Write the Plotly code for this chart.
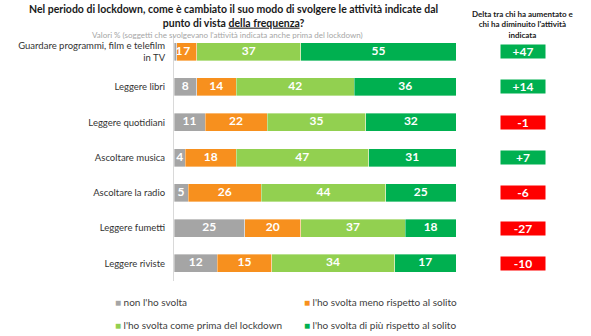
import plotly.graph_objects as go

categories = [
    "Guardare programmi, film e telefilm<br>in TV",
    "Leggere libri",
    "Leggere quotidiani",
    "Ascoltare musica",
    "Ascoltare la radio",
    "Leggere fumetti",
    "Leggere riviste",
]
non_svolta = [1, 8, 11, 4, 5, 25, 12]
meno = [7, 14, 22, 18, 26, 20, 15]
come_prima = [37, 42, 35, 47, 44, 37, 34]
di_piu = [55, 36, 32, 31, 25, 18, 17]
delta = [47, 14, -1, 7, -6, -27, -10]

series_names = [
    "non l'ho svolta",
    "l'ho svolta meno rispetto al solito",
    "l'ho svolta come prima del lockdown",
    "l'ho svolta di più rispetto al solito",
]
series_values = [non_svolta, meno, come_prima, di_piu]
colors = ["#A5A5A5", "#F7901E", "#92D050", "#00B050"]

FONT = "Lato"
W, H = 591, 336
ML, MR, MT, MB = 105, 10, 34, 55
PW = W - ML - MR
PH = H - MT - MB

def px_x(x):
    return (x - ML) / PW

def px_y(y):
    return (H - MB - y) / PH

fig = go.Figure()
for name, vals, col in zip(series_names, series_values, colors):
    fig.add_trace(go.Bar(
        y=categories, x=vals, name=name, orientation="h",
        marker=dict(color=col, line=dict(color="rgba(255,255,255,0.6)", width=0.6)),
        showlegend=False, hoverinfo="skip",
    ))

# value labels drawn on top of all bars (so narrow segments keep their label)
totals = [sum(s[i] for s in series_values) for i in range(len(categories))]
lab_x, lab_y, lab_t, lab_pos = [], [], [], []
for i, cat in enumerate(categories):
    cum = 0
    for s in series_values:
        v = s[i]
        lab_x.append((cum + v / 2) / totals[i] * 100)
        lab_y.append(cat)
        lab_t.append(str(v))
        lab_pos.append("middle right" if v / totals[i] < 0.03 else "middle center")
        cum += v
fig.add_trace(go.Scatter(
    x=lab_x, y=lab_y, text=lab_t, mode="text", textposition=lab_pos,
    textfont=dict(family=FONT, size=12, color="white", weight="bold"),
    showlegend=False, hoverinfo="skip",
))

annotations = []
annotations.append(dict(
    xref="paper", yref="paper", x=px_x(233), y=px_y(16),
    text="<b>Nel periodo di lockdown, come è cambiato il suo modo di svolgere le attività indicate dal<br>punto di vista <u>della frequenza</u>?</b>",
    showarrow=False, align="center", xanchor="center", yanchor="middle",
    font=dict(family=FONT, size=10.5, color="#1a1a1a"),
))
for cat, d in zip(categories, delta):
    annotations.append(dict(
        xref="paper", yref="y", x=px_x(523), y=cat,
        text=f"<b>{d:+d}</b>", showarrow=False,
        width=44, height=13, bgcolor="#00B050" if d > 0 else "#FF0000",
        borderpad=0, font=dict(family=FONT, size=12, color="white"),
        xanchor="center", yanchor="middle",
    ))

annotations.append(dict(
    xref="paper", yref="paper", x=px_x(523), y=px_y(24),
    text="<b>Delta tra chi ha aumentato e<br>chi ha diminuito l'attività<br>indicata</b>",
    showarrow=False, align="center", xanchor="center", yanchor="middle",
    font=dict(family=FONT, size=8, color="#1a1a1a"),
))
annotations.append(dict(
    xref="paper", yref="paper", x=px_x(227), y=px_y(35),
    text="Valori % (soggetti che svolgevano l'attività indicata anche prima del lockdown)",
    showarrow=False, xanchor="center", yanchor="middle",
    font=dict(family=FONT, size=8, color="#A6A6A6"),
))

legend_pos = [(113, 302), (302, 302), (113, 325), (302, 325)]
for (lx, ly), name, col in zip(legend_pos, series_names, colors):
    annotations.append(dict(
        xref="paper", yref="paper", x=px_x(lx), y=px_y(ly),
        text=f"<span style='color:{col}'>■</span> {name}",
        showarrow=False, xanchor="left", yanchor="middle",
        font=dict(family=FONT, size=10, color="#404040"),
    ))

fig.update_layout(
    width=W, height=H,
    margin=dict(l=ML, r=MR, t=MT, b=MB),
    barmode="stack", barnorm="percent", bargap=0.49,
    plot_bgcolor="white", paper_bgcolor="white",
    xaxis=dict(domain=[px_x(174), px_x(456)], range=[0, 100], visible=False, fixedrange=True),
    yaxis=dict(
        autorange="reversed", showline=True, linecolor="#D9D9D9", linewidth=1,
        showgrid=False, ticks="", ticklabelstandoff=6,
        tickfont=dict(family=FONT, size=9.5, color="#333333"),
        fixedrange=True,
    ),
    annotations=annotations,
    showlegend=False,
)

fig.write_html("out.html")
